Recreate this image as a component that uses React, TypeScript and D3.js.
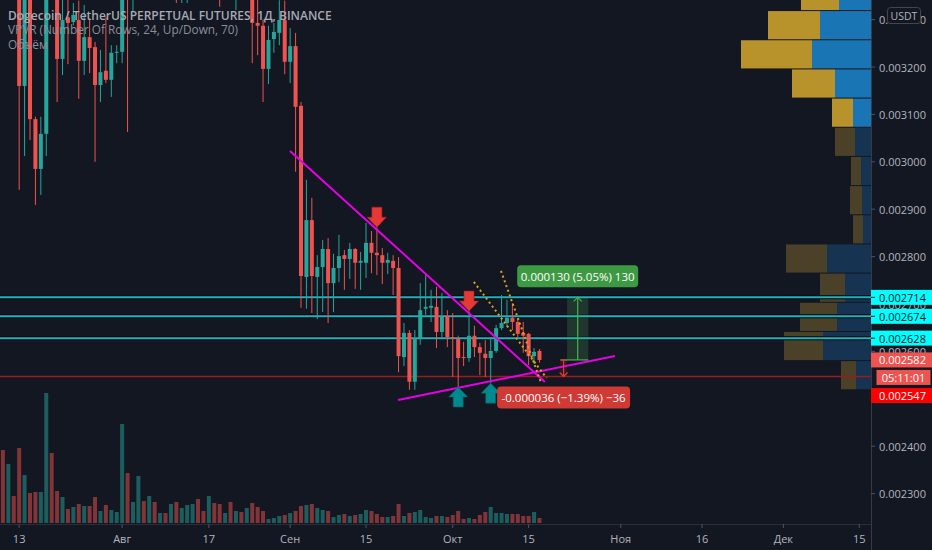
import React from 'react';
import * as d3 from 'd3';

const START = Date.UTC(2020, 6, 10);
const DAY = 86400000;

const opens = [0.00352,0.00345,0.00356,0.0035,0.00316,0.00348,0.00309,0.002985,0.003059,0.00355,
0.00345,0.003217,0.003305,0.003295,0.003299,0.003213,0.003263,0.003242,0.003162,0.003192,
0.003173,0.00323,0.003232,0.00345,0.0034,0.00356,0.00378,0.00365,0.00372,0.0036,
0.00364,0.00358,0.00362,0.0035,0.00356,0.00361,0.00363,0.00357,0.00352,0.00358,
0.00353,0.00343,0.00349,0.00345,0.00352,0.00347,0.00355,0.003293,0.003287,0.003196,
0.003259,0.003272,0.003299,0.003211,0.003244,0.003118,0.002757,0.002877,0.002757,0.002778,
0.002816,0.002744,0.002776,0.002803,0.002795,0.002816,0.002787,0.002787,0.002829,0.002808,
0.002803,0.002787,0.002791,0.002776,0.002588,0.002639,0.002536,0.002628,0.00269,0.002692,
0.002694,0.002641,0.002675,0.00263,0.002626,0.002588,0.002586,0.002633,0.002609,0.002595,
0.002586,0.002601,0.002649,0.00266,0.002671,0.002662,0.002639,0.002637,0.00259,0.002601];
const highs = [0.00358,0.0036,0.00362,0.00355,0.00352,0.00354,0.003095,0.003095,0.00362,0.00366,
0.0035,0.00335,0.00336,0.003335,0.00334,0.003331,0.003299,0.003253,0.003236,0.003305,
0.003246,0.003246,0.00352,0.00356,0.0036,0.00385,0.003996,0.0038,0.00376,0.00368,
0.00368,0.00366,0.00366,0.0036,0.00364,0.00366,0.00368,0.0036,0.00362,0.00361,
0.00356,0.00352,0.00352,0.00356,0.00355,0.00358,0.00358,0.00335,0.0033,0.003287,
0.003293,0.003341,0.00334,0.003282,0.003272,0.003126,0.002962,0.002924,0.002803,0.002835,
0.002839,0.002806,0.002846,0.002814,0.002829,0.002818,0.00281,0.002871,0.002854,0.002862,
0.002818,0.002808,0.002803,0.002799,0.00266,0.002645,0.002645,0.002744,0.002761,0.00273,
0.002736,0.002723,0.002687,0.002681,0.002633,0.00262,0.002685,0.002654,0.002618,0.002624,
0.00263,0.002656,0.002719,0.002709,0.002702,0.002668,0.002662,0.002639,0.002607,0.002605];
const lows = [0.00342,0.00343,0.00346,0.002941,0.003012,0.003046,0.002909,0.00293,0.003012,0.0034,
0.003126,0.003183,0.003206,0.003288,0.003133,0.003183,0.003187,0.003,0.003126,0.003166,
0.003137,0.003208,0.003208,0.003063,0.003316,0.00352,0.0036,0.00358,0.00355,0.00352,
0.00354,0.0035,0.003335,0.003335,0.003335,0.00352,0.00354,0.00348,0.00349,0.0035,
0.003327,0.0034,0.00342,0.00332,0.00344,0.00345,0.003208,0.003225,0.003126,0.003164,
0.00323,0.003246,0.003185,0.003166,0.002979,0.002692,0.00269,0.002681,0.002668,0.002683,
0.00266,0.002683,0.002746,0.00273,0.002753,0.002732,0.00273,0.002755,0.002765,0.002761,
0.002742,0.002763,0.002719,0.002556,0.002569,0.002519,0.002519,0.002614,0.002677,0.002662,
0.002607,0.002628,0.002609,0.002546,0.002525,0.002569,0.002578,0.002588,0.00255,0.002546,
0.002533,0.002597,0.002645,0.002652,0.002645,0.00263,0.002597,0.002571,0.002574,0.002576];
const closes = [0.00345,0.00356,0.00349,0.00316,0.00348,0.00309,0.002985,0.003059,0.00355,0.00345,
0.003217,0.003299,0.003293,0.00331,0.003213,0.003263,0.00324,0.003162,0.003189,0.003173,
0.00323,0.003232,0.00345,0.0034,0.00356,0.00378,0.00365,0.00372,0.0036,0.00364,
0.00358,0.00362,0.0035,0.00356,0.00361,0.00363,0.00357,0.00352,0.00358,0.00353,
0.00343,0.00349,0.00345,0.00352,0.00347,0.00355,0.003293,0.003287,0.003196,0.003257,
0.003274,0.003299,0.003211,0.003244,0.003116,0.002759,0.002877,0.002759,0.002778,0.002816,
0.002744,0.002776,0.002801,0.002795,0.002816,0.002787,0.002791,0.002829,0.002808,0.002803,
0.002787,0.002793,0.002776,0.00259,0.002639,0.002536,0.002628,0.002687,0.002694,0.002696,
0.002641,0.002673,0.00263,0.002626,0.002586,0.002586,0.002633,0.002609,0.002597,0.002586,
0.002601,0.002649,0.00266,0.002671,0.002662,0.002637,0.002633,0.00259,0.002599,0.002582];
const volumes = [73,59,27,75,48,30,31,31,130,70,
32,26,14,16,19,17,17,26,12,18,
13,11,99,50,21,47,22,27,21,10,
10,19,21,15,18,19,24,12,27,20,
19,10,21,12,11,15,20,16,12,4,
5,7,8,10,12,17,18,19,15,13,
12,6,8,9,7,8,9,13,12,9,
6,6,7,19,7,10,11,13,6,5,
7,7,6,8,12,4,5,4,8,11,
16,10,10,9,9,9,7,7,11,5];

const priceTicks = [0.0023,0.0024,0.0025,0.0026,0.0027,0.0028,0.0029,0.003,0.0031,0.0032,0.0033];
const timeTickDates = ['2020-07-13','2020-08-01','2020-08-17','2020-09-01','2020-09-15','2020-10-01','2020-10-15','2020-11-01','2020-11-16','2020-12-01','2020-12-15'];
const timeTickLabels = ['13','Авг','17','Сен','15','Окт','15','Ноя','16','Дек','15'];

// VPVR rows (bottom to top, visible part); blue = up, gold = down
const vpUp = [15,48,34,26,44,8,9,10,16,18,36,59,51,32];
const vpDown = [15,39,37,25,41,10,12,10,20,21,43,71,52,38];
const VP_ROWS = 24;
const VP_VALUE_AREA_FROM = 9;

const levelPrices = [0.002714, 0.002674, 0.002628];
const stopPrice = 0.002547;
const lastPrice = 0.002582;
const countdown = '05:11:01';

// drawings: [dayOffset1, price1, dayOffset2, price2]
const magentaLines = [[52.97, 0.0030228, 100.0, 0.0025355], [72.9, 0.0024975, 112.93, 0.0025904]];
const dottedLines = [[86.9, 0.0027465, 100.3, 0.0025439], [91.9, 0.0027697, 99.3, 0.0025334]];
const sellArrows = [69, 86];
const buyArrows = [84, 90];

const targetRange = { d1: 104.1, d2: 108.0, p1: 0.002582, p2: 0.002714, label: '0.000130 (5.05%) 130' };
const stopRange = { d1: 102.8, d2: 104.1, p1: 0.002582, p2: 0.002547, label: '-0.000036 (\u22121.39%) \u221236' };

const FONT = '"Open Sans", "Noto Sans", sans-serif';

export default function App() {
  const PR = 871;
  const AX = 524;
  const x = d3.scaleUtc().domain([new Date(START), new Date(START + 161 * DAY)]).range([2.9, 875.52]);
  const xd = (d: number) => x(new Date(START + d * DAY));
  const y = d3.scaleLinear().domain([0.0023, 0.0033]).range([493.6, 19.6]);
  const yVol = d3.scaleLinear().domain([0, d3.max(volumes) as number]).range([523, 393]);

  const minLow = d3.min(lows) as number;
  const maxHigh = d3.max(highs) as number;
  const rowH = (maxHigh - minLow) / VP_ROWS;
  const vpTot = vpUp.map((u, i) => u + vpDown[i]);
  const vpW = d3.scaleLinear().domain([0, d3.max(vpTot) as number]).range([0, 130]);

  const up = '#26a69a', dn = '#ef5350';
  const lineGen = d3.line<number[]>().x(d => d[0]).y(d => d[1]);

  const arrowDown = (cx: number, ty: number) => `M${cx - 5},${ty - 20}L${cx + 5},${ty - 20}L${cx + 5},${ty - 10}L${cx + 9.5},${ty - 10}L${cx},${ty}L${cx - 9.5},${ty - 10}L${cx - 5},${ty - 10}Z`;
  const arrowUp = (cx: number, ty: number) => `M${cx - 5},${ty + 20}L${cx + 5},${ty + 20}L${cx + 5},${ty + 10}L${cx + 9.5},${ty + 10}L${cx},${ty}L${cx - 9.5},${ty + 10}L${cx - 5},${ty + 10}Z`;

  const tgX1 = xd(targetRange.d1), tgX2 = xd(targetRange.d2);
  const tgY1 = y(targetRange.p1), tgY2 = y(targetRange.p2);
  const tgCx = (tgX1 + tgX2) / 2;
  const stX1 = xd(stopRange.d1), stX2 = xd(stopRange.d2);
  const stY1 = y(stopRange.p1), stY2 = y(stopRange.p2);
  const stCx = (stX1 + stX2) / 2;

  return (
    <svg width={932} height={550} style={{ position: 'fixed', left: 0, top: 0, fontFamily: FONT }}>
      <rect x={0} y={0} width={932} height={550} fill="#131722" />
      <defs>
        <clipPath id="plot"><rect x={0} y={0} width={PR} height={AX} /></clipPath>
      </defs>
      <g clipPath="url(#plot)">
        {volumes.map((v, i) => (
          <rect key={'v' + i} x={xd(i) - 2} y={yVol(v)} width={4} height={523 - yVol(v)}
            fill={closes[i] >= opens[i] ? 'rgba(38,166,154,0.5)' : 'rgba(239,83,80,0.5)'} />
        ))}
        {vpUp.map((u, r) => {
          const top = y(minLow + (r + 1) * rowH);
          const bot = y(minLow + r * rowH);
          const bright = r >= VP_VALUE_AREA_FROM;
          const wu = vpW(u), wd = vpW(vpDown[r]);
          return (
            <g key={'vp' + r}>
              <rect x={PR - wu} y={top + 0.5} width={wu} height={bot - top - 1} fill={bright ? '#1a75b4' : '#163452'} />
              <rect x={PR - wu - wd} y={top + 0.5} width={wd} height={bot - top - 1} fill={bright ? '#b8922a' : '#4a4128'} />
            </g>
          );
        })}
        {levelPrices.map((p, i) => (
          <g key={'lv' + i}>
            <line x1={0} x2={PR} y1={y(p)} y2={y(p)} stroke="#05070b" strokeWidth={4} />
            <line x1={0} x2={PR} y1={y(p)} y2={y(p)} stroke="#1fb3c2" strokeWidth={2} />
          </g>
        ))}
        <line x1={0} x2={PR} y1={y(stopPrice)} y2={y(stopPrice)} stroke="#9c1b1b" strokeWidth={1.3} />
        {opens.map((o, i) => {
          const c = closes[i];
          const col = c >= o ? up : dn;
          const cx = xd(i);
          const yt = y(Math.max(o, c)), yb = y(Math.min(o, c));
          return (
            <g key={'c' + i}>
              <line x1={cx} x2={cx} y1={y(highs[i])} y2={y(lows[i])} stroke={col} strokeWidth={1} />
              <rect x={cx - 2} y={yt} width={4} height={Math.max(1, yb - yt)} fill={col} />
            </g>
          );
        })}
        {magentaLines.map((l, i) => (
          <path key={'m' + i} d={lineGen([[xd(l[0]), y(l[1])], [xd(l[2]), y(l[3])]]) as string}
            stroke="#e600e6" strokeWidth={2} fill="none" />
        ))}
        {dottedLines.map((l, i) => (
          <path key={'d' + i} d={lineGen([[xd(l[0]), y(l[1])], [xd(l[2]), y(l[3])]]) as string}
            stroke="#d9a21e" strokeWidth={2} strokeDasharray="2,3" fill="none" />
        ))}
        {sellArrows.map((i) => (
          <path key={'sa' + i} d={arrowDown(xd(i), y(highs[i]))} fill="#e53935" stroke="#a32522" strokeWidth={0.6} />
        ))}
        {buyArrows.map((i) => (
          <path key={'ba' + i} d={arrowUp(xd(i), y(lows[i]))} fill="#00898f" stroke="#005f63" strokeWidth={0.6} />
        ))}
        <rect x={tgX1} y={tgY2} width={tgX2 - tgX1} height={tgY1 - tgY2} fill="rgba(76,175,80,0.22)" />
        <line x1={tgX1 - 6} x2={tgX2} y1={tgY1} y2={tgY1} stroke="#4caf50" strokeWidth={1.2} />
        <line x1={tgCx} x2={tgCx} y1={tgY1} y2={tgY2} stroke="#4caf50" strokeWidth={1.2} />
        <path d={`M${tgCx - 4},${tgY2 + 4}L${tgCx},${tgY2}L${tgCx + 4},${tgY2 + 4}`} stroke="#4caf50" strokeWidth={1.2} fill="none" />
        <rect x={stX1} y={stY1} width={stX2 - stX1} height={stY2 - stY1} fill="rgba(242,54,69,0.12)" />
        <line x1={stX1} x2={stX2} y1={stY1} y2={stY1} stroke="#e53935" strokeWidth={1.2} />
        <line x1={stCx} x2={stCx} y1={stY1} y2={stY2} stroke="#e53935" strokeWidth={1.2} />
        <path d={`M${stCx - 4},${stY2 - 4}L${stCx},${stY2}L${stCx + 4},${stY2 - 4}`} stroke="#e53935" strokeWidth={1.2} fill="none" />
        <rect x={tgCx - 60.5} y={tgY2 - 32} width={121} height={22} rx={4} fill="#3d9a42" />
        <text x={tgCx} y={tgY2 - 21} textAnchor="middle" dominantBaseline="central" fontSize={11.5} fill="#ffffff">{targetRange.label}</text>
        <rect x={stCx - 66.5} y={stY2 + 10} width={133} height={22} rx={4} fill="#cf3a35" />
        <text x={stCx} y={stY2 + 21} textAnchor="middle" dominantBaseline="central" fontSize={11.5} fill="#ffffff">{stopRange.label}</text>
      </g>

      <text x={8} y={19.5} fontSize={12} fontWeight={600} fill="#a7aab3">Dogecoin / TetherUS PERPETUAL FUTURES, 1Д, BINANCE</text>
      <text x={8} y={34} fontSize={11.8} fill="#8b8e98">VPVR (Number Of Rows, 24, Up/Down, 70)</text>
      <text x={8} y={49} fontSize={11.8} fill="#8b8e98">Объём</text>

      <line x1={0} x2={PR} y1={AX + 0.5} y2={AX + 0.5} stroke="#2a2e39" strokeWidth={1} />
      <line x1={PR + 0.5} x2={PR + 0.5} y1={0} y2={550} stroke="#363a45" strokeWidth={1} />
      {timeTickDates.map((d, i) => {
        const tx = x(new Date(d + 'T00:00:00Z'));
        return (
          <g key={'tt' + i}>
            <line x1={tx} x2={tx} y1={AX} y2={AX + 4} stroke="#50535e" />
            <text x={tx} y={538} textAnchor="middle" dominantBaseline="central" fontSize={11} fill="#b2b5be">{timeTickLabels[i]}</text>
          </g>
        );
      })}
      {priceTicks.map((p, i) => (
        <g key={'pt' + i}>
          <line x1={PR} x2={PR + 4} y1={y(p)} y2={y(p)} stroke="#50535e" />
          <text x={879} y={y(p)} dominantBaseline="central" fontSize={11} fill="#b2b5be">{p.toFixed(6)}</text>
        </g>
      ))}
      <rect x={887.5} y={7.5} width={33} height={16} rx={3} fill="#131722" stroke="#434651" />
      <text x={904} y={15.5} textAnchor="middle" dominantBaseline="central" fontSize={10.5} fill="#b2b5be">USDT</text>

      {levelPrices.map((p, i) => (
        <g key={'lb' + i}>
          <rect x={PR} y={y(p) - 7.5} width={61} height={15} fill="#00ffff" />
          <line x1={PR} x2={PR + 4} y1={y(p)} y2={y(p)} stroke="#131722" />
          <text x={879} y={y(p)} dominantBaseline="central" fontSize={11} fill="#131722">{p.toFixed(6)}</text>
        </g>
      ))}
      <rect x={PR} y={y(lastPrice) - 7.5} width={61} height={15} fill="#ef5350" />
      <text x={879} y={y(lastPrice)} dominantBaseline="central" fontSize={11} fill="#ffffff">{lastPrice.toFixed(6)}</text>
      <rect x={876.5} y={y(lastPrice) + 10} width={54} height={15} fill="#ef5350" />
      <text x={903.5} y={y(lastPrice) + 17.5} textAnchor="middle" dominantBaseline="central" fontSize={11} fill="#ffffff">{countdown}</text>
      <rect x={PR} y={y(stopPrice) + 11.5} width={61} height={15} fill="#ff0000" />
      <text x={879} y={y(stopPrice) + 19} dominantBaseline="central" fontSize={11} fill="#ffffff">{stopPrice.toFixed(6)}</text>
    </svg>
  );
}
